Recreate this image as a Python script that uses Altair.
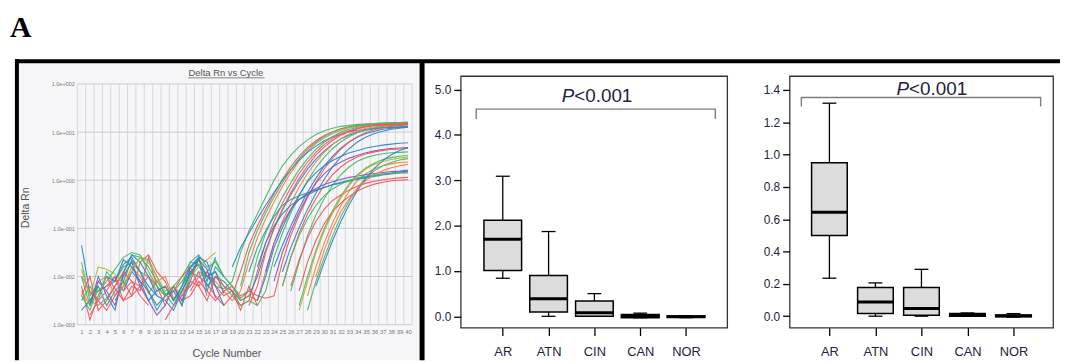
import altair as alt
import pandas as pd

N = None

# ---------------- Panel 1: amplification plot (log10 Delta Rn per cycle) ----------------
cycles = list(range(1, 41))
decades = [0.001, 0.01, 0.1, 1, 10, 100]

curve_group = ["green", "red", "orange", "blue", "green", "red", "blue", "orange", "green", "blue",
               "red", "blue", "green", "red", "blue", "purple", "red", "green", "green", "orange",
               "green", "blue", "teal", "blue", "purple", "red", "red", "orange", "green", "olive",
               "olive", "pink", "green", "red", "blue"]
curve_start = [1, 1, 1, 1, 1, 1, 1, 21, 1, 1,
               1, 25, 20, 21, 22, 1, 25, 26, 27, 28,
               28, 29, 1, 22, 23, 27, 26, 29, 25, 1,
               27, 1, 1, 1, 4]
curve_log = [
    [-1.7, -2.5, -2.6, -2.45, -2.2, -1.95, -1.55, -1.6, -1.8, -2.1, -2.35, -2.6, -2.2, -1.7, -1.75, -2.0, -2.2, -2.25, -2.1, -1.5, -1.05, -0.7, -0.35, 0.0, 0.3, 0.52, 0.7, 0.84, 0.95, 1.03, 1.08, 1.12, 1.14, 1.16, 1.17, 1.18, 1.19, 1.19, 1.2, 1.2],
    [-2.2, -2.9, -2.4, -2.0, -2.25, -2.5, -2.4, -1.7, -1.55, -1.9, -2.1, -2.5, N, -2.3, -2.0, -2.15, -2.4, -2.6, -2.4, -1.9, -1.35, -0.95, -0.6, -0.28, 0.02, 0.28, 0.5, 0.68, 0.82, 0.93, 1.01, 1.07, 1.11, 1.14, 1.16, 1.17, 1.18, 1.18, 1.19, 1.19],
    [-2.3, -2.6, -2.1, -2.0, -2.4, -2.2, -1.8, -2.0, -2.35, -2.1, -2.0, -2.45, -2.3, -2.2, -1.9, -2.0, -2.1, -2.3, -2.5, -2.3, -1.7, -1.2, -0.8, -0.45, -0.13, 0.16, 0.4, 0.6, 0.76, 0.88, 0.97, 1.04, 1.09, 1.12, 1.14, 1.16, 1.17, 1.17, 1.18, 1.18],
    [-1.35, -2.35, -2.3, -2.2, -2.1, -1.75, -1.6, -1.9, -2.2, -2.4, -2.5, -2.7, -2.3, -1.95, -1.6, -2.1, -1.6, N, -1.8, -1.4, -1.1, -0.8, -0.52, -0.25, 0.0, 0.22, 0.42, 0.58, 0.71, 0.82, 0.9, 0.96, 1.01, 1.04, 1.06, 1.08, 1.09, 1.1, 1.1, 1.1],
    [-2.5, -2.2, -2.5, -1.9, -2.1, -1.8, -1.7, -1.9, -2.0, -2.3, -2.2, -2.5, -2.2, -1.9, -2.0, -1.9, -1.65, -2.0, -2.2, -2.4, -2.3, -1.6, -1.1, -0.7, -0.35, -0.05, 0.22, 0.45, 0.64, 0.79, 0.91, 1.0, 1.06, 1.1, 1.13, 1.15, 1.16, 1.17, 1.18, 1.18],
    [-2.6, N, -2.3, -2.2, -2.0, -2.5, -2.2, -2.3, -1.6, -2.2, -2.6, N, -2.4, -2.1, -2.2, -1.9, -2.2, -2.4, -2.3, -2.6, -2.5, -1.9, -1.3, -0.85, -0.48, -0.15, 0.14, 0.38, 0.58, 0.74, 0.87, 0.96, 1.03, 1.08, 1.11, 1.14, 1.15, 1.16, 1.17, 1.17],
    [N, -2.6, -2.0, -2.4, -2.7, -1.9, -1.55, -1.7, -2.0, -2.4, N, -2.6, -2.3, -1.9, -1.75, -2.2, -2.0, -2.1, -2.3, -2.5, -2.4, -2.0, -1.45, -1.0, -0.62, -0.3, -0.02, 0.23, 0.44, 0.61, 0.75, 0.86, 0.94, 1.0, 1.04, 1.07, 1.09, 1.1, 1.11, 1.12],
    [-2.4, -2.5, -1.9, -1.3, -0.85, -0.47, -0.14, 0.14, 0.38, 0.58, 0.74, 0.87, 0.96, 1.03, 1.08, 1.11, 1.13, 1.15, 1.16, 1.17],
    [-2.4, -2.7, -2.2, N, -2.5, -2.2, -1.9, -1.6, -1.65, -2.0, -2.4, -2.3, -2.1, -1.8, -1.75, -2.0, -1.9, -2.2, -2.4, -2.6, -2.5, -2.6, -2.3, -1.6, -1.1, -0.68, -0.32, -0.01, 0.26, 0.48, 0.66, 0.8, 0.91, 0.99, 1.05, 1.09, 1.12, 1.14, 1.15, 1.16],
    [-2.7, -2.5, -2.2, N, N, -2.3, -1.9, -2.1, -2.3, -2.6, -2.4, -2.3, -2.6, -1.8, -1.65, -2.0, -1.9, -2.35, N, N, N, N, N, -1.8, -1.35, -0.95, -0.58, -0.25, 0.04, 0.3, 0.5, 0.67, 0.8, 0.9, 0.97, 1.02, 1.06, 1.08, 1.1, 1.11],
    [-2.0, -2.3, -2.5, -2.7, -2.4, -2.1, -2.4, -2.2, -2.0, -2.2, -2.4, -2.2, -2.5, -2.4, -2.1, -2.3, -2.5, -2.3, -2.2, -2.45, -2.3, -2.4, -2.45, -2.4, -1.7, -1.15, -0.72, -0.36, -0.04, 0.24, 0.46, 0.65, 0.8, 0.91, 0.99, 1.05, 1.09, 1.12, 1.14, 1.15],
    [-1.9, -1.4, -0.98, -0.6, -0.27, 0.02, 0.28, 0.49, 0.66, 0.8, 0.9, 0.97, 1.02, 1.06, 1.08, 1.1],
    [-2.2, -1.5, -1.05, -0.68, -0.35, -0.05, 0.22, 0.45, 0.64, 0.79, 0.91, 1.0, 1.07, 1.11, 1.14, 1.16, 1.18, 1.19, 1.2, 1.2, 1.21],
    [-2.6, -2.2, -1.5, -1.0, -0.6, -0.26, 0.04, 0.3, 0.52, 0.69, 0.83, 0.94, 1.02, 1.07, 1.11, 1.14, 1.15, 1.16, 1.17, 1.18],
    [-2.5, -2.0, -1.4, -0.98, -0.62, -0.3, -0.03, 0.16, 0.3, 0.41, 0.5, 0.57, 0.62, 0.67, 0.7, 0.73, 0.75, 0.77, 0.78],
    [N, -2.6, -2.1, -2.3, -2.6, -2.0, -1.7, -2.2, -2.5, -2.8, -2.6, -2.2, -2.5, -2.0, -1.65, -1.85, -2.45, N, N, N, N, N, N, -2.1, -1.5, -1.05, -0.66, -0.33, -0.06, 0.14, 0.28, 0.38, 0.46, 0.52, 0.57, 0.61, 0.64, 0.66, 0.67, 0.68],
    [-2.2, -1.6, -1.1, -0.7, -0.38, -0.1, 0.12, 0.28, 0.4, 0.49, 0.55, 0.59, 0.62, 0.64, 0.65, 0.66],
    [-2.3, -1.7, -1.15, -0.72, -0.38, -0.1, 0.12, 0.28, 0.4, 0.47, 0.52, 0.55, 0.57, 0.58, 0.59],
    [-2.6, -2.0, -1.45, -1.0, -0.63, -0.32, -0.07, 0.12, 0.26, 0.36, 0.43, 0.47, 0.5, 0.52],
    [-2.4, -1.8, -1.3, -0.88, -0.52, -0.22, 0.0, 0.14, 0.24, 0.3, 0.34, 0.37, 0.38],
    [-2.7, -2.1, -1.6, -1.15, -0.75, -0.42, -0.15, 0.06, 0.2, 0.3, 0.37, 0.42, 0.45],
    [-2.2, -1.7, -1.25, -0.85, -0.5, -0.2, 0.05, 0.25, 0.41, 0.53, 0.62, 0.68],
    [N, -2.4, -2.2, -2.6, -2.3, -2.1, -1.65, -1.9, -2.3, -2.7, -2.4, -2.2, -2.6, -2.1, -1.6, -2.3, -1.8, -2.0, N, N, -1.9, -1.4, -1.05, -0.75, -0.52, -0.4, -0.32, -0.26, -0.2, -0.15, -0.1, -0.06, -0.02, 0.02, 0.05, 0.08, 0.11, 0.13, 0.15, 0.17],
    [-1.8, -1.3, -0.95, -0.7, -0.52, -0.4, -0.3, -0.22, -0.15, -0.09, -0.04, 0.0, 0.04, 0.07, 0.1, 0.13, 0.15, 0.17, 0.19],
    [-1.9, -1.3, -0.9, -0.6, -0.4, -0.27, -0.17, -0.09, -0.03, 0.02, 0.06, 0.09, 0.12, 0.14, 0.16, 0.18, 0.19, 0.21],
    [-2.3, -1.7, -1.25, -0.9, -0.65, -0.47, -0.33, -0.22, -0.14, -0.08, -0.04, -0.01, 0.0, 0.01],
    [-2.2, -1.65, -1.2, -0.85, -0.6, -0.42, -0.3, -0.2, -0.12, -0.06, -0.02, 0.01, 0.03, 0.05, 0.06],
    [-2.0, -1.45, -1.0, -0.65, -0.38, -0.16, 0.0, 0.12, 0.2, 0.26, 0.3, 0.33],
    [-2.2, -1.6, -1.15, -0.8, -0.52, -0.32, -0.18, -0.08, 0.0, 0.05, 0.09, 0.11, 0.13, 0.14, 0.15, 0.15],
    [-1.85, -2.4, -1.8, -1.85, -1.95, -2.15, -1.9, -1.6, -1.7, -2.0, -2.3, -2.2, -2.4, -2.0, -1.8, -1.65, -1.5],
    [-2.7, -2.1, -1.5, -1.05, -0.68, -0.36, -0.1, 0.1, 0.24, 0.33, 0.39, 0.43, 0.46, 0.48],
    [N, -2.8, -2.5, -2.3, -2.0, -2.3, -2.1, -2.2, -2.5, N, -2.9, -2.6, -2.4, -2.2, -1.9, -2.4],
    [-2.0, -2.6, -2.3, -2.1, -1.85, -1.6, -1.5, -1.55, -1.9, -2.2, -2.4, -2.2, -2.0, -1.7, -1.55, -1.8, -1.7, -2.0, -2.2, -2.5, -2.4],
    [-2.4, -2.0, -2.7, -2.5, -2.2, -1.9, -2.1, -2.4, -2.6, N, -2.5, -2.3, -2.0, -1.8, -2.2, -2.5, -2.0, -2.2, -2.3, -2.7, -2.2, -2.6],
    [-2.0, -2.1, -1.65, -1.8, -2.1, -2.5, -2.3, -2.2, -2.5, -2.2, -1.8, -1.6, -1.7, -2.2, -2.6],
]

dye_names = ["green", "red", "blue", "orange", "purple", "teal", "olive", "pink"]
dye_colors = ["#46b964", "#f0575b", "#2f84c4", "#f47d4a", "#8b55bf", "#27a0a0", "#b5b535", "#e3608f"]

# ---------------- Panels 2 and 3: box plots ----------------
categories = ["AR", "ATN", "CIN", "CAN", "NOR"]
cat_index = [1, 2, 3, 4, 5]

b2_low = [0.84, 0.0, 0.0, -0.03, -0.03]
b2_q1 = [1.01, 0.095, 0.0, -0.03, -0.02]
b2_med = [1.70, 0.39, 0.08, 0.0, -0.01]
b2_q3 = [2.12, 0.90, 0.34, 0.04, 0.01]
b2_high = [3.09, 1.87, 0.50, 0.07, 0.01]
b2_bracket_x = [0.42, 0.42, 5.64, 5.64]
b2_bracket_y = [4.35, 4.57, 4.57, 4.35]
b2_label_pos = [2.56, 4.73]

b3_low = [0.235, 0.0, 0.0, 0.0, -0.006]
b3_q1 = [0.50, 0.016, 0.006, 0.0, -0.004]
b3_med = [0.643, 0.088, 0.047, 0.008, 0.002]
b3_q3 = [0.949, 0.178, 0.178, 0.016, 0.007]
b3_high = [1.318, 0.206, 0.29, 0.02, 0.016]
b3_bracket_x = [0.39, 0.39, 5.59, 5.59]
b3_bracket_y = [1.298, 1.353, 1.353, 1.298]
b3_label_pos = [2.73, 1.368]

y2_ticks = [0, 1, 2, 3, 4, 5]
y3_ticks = [0, 0.2, 0.4, 0.6, 0.8, 1.0, 1.2, 1.4]

# ---------------- build panel 1 ----------------
rows = []
for sid, (grp, start, vals) in enumerate(zip(curve_group, curve_start, curve_log)):
    seg = 0
    for i, v in enumerate(vals):
        if v is None:
            seg += 1
            continue
        rows.append({"seg": f"{sid}_{seg}", "dye": grp, "cycle": start + i, "drn": 10 ** v})
curves = pd.DataFrame(rows)

vgrid = pd.DataFrame({"gx": [c - 0.5 for c in cycles] + [cycles[-1] + 0.5]})
hgrid = pd.DataFrame({"gy": decades})

xs1 = alt.Scale(domain=[0.5, 40.5], nice=False, zero=False)
ys1 = alt.Scale(type="log", domain=[0.001, 100], range=[251, 8], nice=False)
xa1 = alt.Axis(values=cycles, grid=False, ticks=False, tickSize=0, domain=False, labelFontSize=6,
               labelColor="#7a7a7a", labelPadding=1, labelOverlap=False, labelFlush=False, zindex=2)
ya1 = alt.Axis(values=decades, grid=False, ticks=False, tickSize=0, domain=False, labelFontSize=5.6,
               labelColor="#7a7a7a", labelPadding=3, labelOverlap=False, labelFlush=False, zindex=2,
               labelExpr="'1.0e' + (datum.value < 1 ? '-' : '+') + '00' + abs(round(log(datum.value) / LN10))")


def X1(f):
    return alt.X(f, type="quantitative", scale=xs1, axis=xa1, title=None)


def Y1(f):
    return alt.Y(f, type="quantitative", scale=ys1, axis=ya1, title=None)


one = pd.DataFrame({"k": [0]})

bg = alt.Chart(one).mark_rect(fill="#f6f6f8").encode(
    x=alt.value(-59), x2=alt.value(346), y=alt.value(-13), y2=alt.value(287))
anchor = alt.Chart(one).mark_rule(strokeOpacity=0).encode(
    x=alt.value(-70), x2=alt.value(-70), y=alt.value(-67), y2=alt.value(-66))
frame_left = alt.Chart(one).mark_rule(color="black", strokeWidth=4).encode(
    x=alt.value(-61), y=alt.value(-17), y2=alt.value(287))
frame_top = alt.Chart(one).mark_rule(color="black", strokeWidth=4).encode(
    x=alt.value(-63), x2=alt.value(992), y=alt.value(-15))
frame_mid = alt.Chart(one).mark_rule(color="black", strokeWidth=5).encode(
    x=alt.value(348), y=alt.value(-15), y2=alt.value(287))

vg = alt.Chart(vgrid).mark_rule(color="#d6d7de", strokeWidth=1).encode(
    x=X1("gx"), y=alt.YDatum(0.001, scale=ys1, axis=ya1, title=None), y2=alt.datum(100))
hg = alt.Chart(hgrid).mark_rule(color="#c9cad0", strokeWidth=1).encode(
    y=Y1("gy"), x=alt.XDatum(0.5, scale=xs1, axis=xa1, title=None), x2=alt.datum(40.5))

lines = alt.Chart(curves).mark_line(strokeWidth=1.1, opacity=0.95, clip=True).encode(
    x=X1("cycle"), y=Y1("drn"), detail="seg:N",
    color=alt.Color("dye:N", scale=alt.Scale(domain=dye_names, range=dye_colors), legend=None))

title_t = alt.Chart(pd.DataFrame({"t": ["Delta Rn vs Cycle"]})).mark_text(
    fontSize=9.5, color="#555555", align="center", baseline="alphabetic").encode(
    text="t:N", x=alt.value(150), y=alt.value(0))
title_u = alt.Chart(one).mark_rule(color="#666666", strokeWidth=0.8).encode(
    x=alt.value(112), x2=alt.value(189), y=alt.value(1.8))
ytitle = alt.Chart(pd.DataFrame({"t": ["Delta Rn"]})).mark_text(
    fontSize=10.5, color="#555555", angle=270, align="center", baseline="middle").encode(
    text="t:N", x=alt.value(-52), y=alt.value(133))
xtitle = alt.Chart(pd.DataFrame({"t": ["Cycle Number"]})).mark_text(
    fontSize=11, color="#555555", align="center", baseline="middle").encode(
    text="t:N", x=alt.value(151), y=alt.value(281))
letter = alt.Chart(pd.DataFrame({"t": ["A"]})).mark_text(
    fontSize=30, font="Liberation Serif", fontWeight="bold", color="black", align="left",
    baseline="alphabetic").encode(text="t:N", x=alt.value(-68), y=alt.value(-39))

panel1 = alt.layer(bg, anchor, vg, hg, lines, title_t, title_u, ytitle, xtitle, letter,
                   frame_left, frame_top, frame_mid).properties(width=338, height=254)


# ---------------- build box panels ----------------
def box_panel(low, q1, med, q3, high, bx, by, lpos, xdom, ydom, yticks, yfmt, width, boxw):
    df = pd.DataFrame({"i": cat_index, "cat": categories, "lo": low, "q1": q1,
                       "med": med, "q3": q3, "hi": high})
    br = pd.DataFrame({"bx": bx, "by": by, "o": list(range(len(bx)))})
    lab = pd.DataFrame({"lx": [lpos[0]], "ly": [lpos[1]], "p": ["P"], "rest": ["<0.001"]})
    xs = alt.Scale(domain=xdom, nice=False, zero=False)
    ys = alt.Scale(domain=ydom, nice=False, zero=False)
    label_expr = "[" + ",".join(f"'{c}'" for c in categories) + "][datum.value - 1]"
    xa = alt.Axis(values=cat_index, labelExpr=label_expr, grid=False, domain=False, tickSize=8,
                  tickColor="black", tickWidth=1.3, labelFontSize=13, labelPadding=10,
                  labelColor="#1d2340", labelFlush=False)
    ya = alt.Axis(values=yticks, format=yfmt, grid=False, domain=False, tickSize=7,
                  tickColor="black", tickWidth=1.3, labelFontSize=12, labelPadding=3,
                  labelColor="#1d2340", labelFlush=False)

    def X(f):
        return alt.X(f, type="quantitative", scale=xs, axis=xa, title=None)

    def Y(f):
        return alt.Y(f, type="quantitative", scale=ys, axis=ya, title=None)

    whisk = alt.Chart(df).mark_rule(color="black", strokeWidth=1.3).encode(
        x=X("i"), y=Y("lo"), y2="hi")
    cap_hi = alt.Chart(df).mark_tick(orient="horizontal", size=14, thickness=1.3, color="black",
                                     opacity=1).encode(x=X("i"), y=Y("hi"))
    cap_lo = alt.Chart(df).mark_tick(orient="horizontal", size=14, thickness=1.3, color="black",
                                     opacity=1).encode(x=X("i"), y=Y("lo"))
    box = alt.Chart(df).mark_bar(size=boxw, fill="#dcdcdc", stroke="black", strokeWidth=1.5,
                                 opacity=1).encode(x=X("i"), y=Y("q1"), y2="q3")
    median = alt.Chart(df).mark_tick(orient="horizontal", size=boxw + 1, thickness=3, color="black",
                                     opacity=1).encode(x=X("i"), y=Y("med"))
    bracket = alt.Chart(br).mark_line(color="#7d7d7d", strokeWidth=1.4).encode(
        x=X("bx"), y=Y("by"), order="o:Q")
    ptxt = alt.Chart(lab).mark_text(fontSize=19, fontStyle="italic", align="right",
                                    baseline="alphabetic", color="#1d2340").encode(
        x=X("lx"), y=Y("ly"), text="p:N")
    rtxt = alt.Chart(lab).mark_text(fontSize=19, align="left", baseline="alphabetic",
                                    color="#1d2340").encode(
        x=X("lx"), y=Y("ly"), text="rest:N")
    return alt.layer(whisk, cap_hi, cap_lo, box, median, bracket, ptxt, rtxt).properties(
        width=width, height=254, view=alt.ViewBackground(stroke="#333333", strokeWidth=1.3))


panel2 = box_panel(b2_low, b2_q1, b2_med, b2_q3, b2_high, b2_bracket_x, b2_bracket_y, b2_label_pos,
                   [0.19, 5.79], [-0.25, 5.3], y2_ticks, ".1f", 269, 38)
panel3 = box_panel(b3_low, b3_q1, b3_med, b3_q3, b3_high, b3_bracket_x, b3_bracket_y, b3_label_pos,
                   [0.242, 5.753], [-0.071, 1.486], y3_ticks, ".1f", 266, 36)

right = alt.hconcat(panel2, panel3, spacing=63, bounds="flush")
chart = alt.hconcat(panel1, right, spacing=49, bounds="flush").properties(padding=0).configure_view(
    strokeWidth=0).configure_axis(labelFont="Liberation Sans").configure_text(font="Liberation Sans")

chart.save("out.html", embed_options={"renderer": "svg", "actions": False})
